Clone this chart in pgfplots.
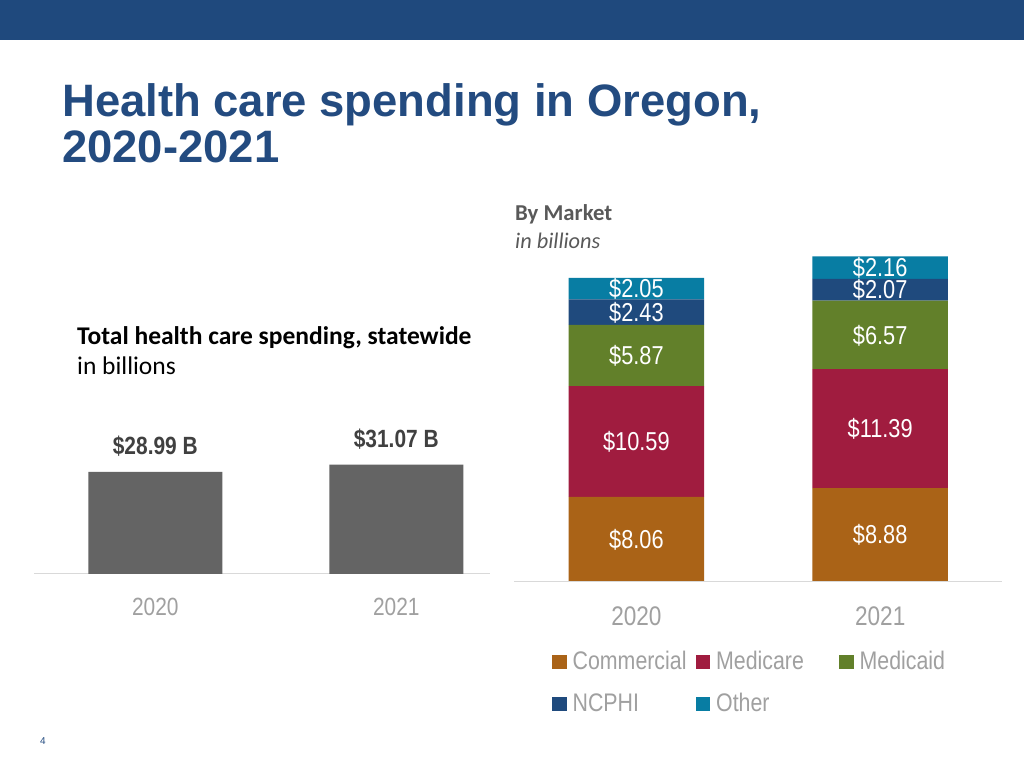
\documentclass[border=0pt]{standalone}
\usepackage{pgfplots}
\pgfplotsset{compat=1.18}
\usepackage{fontspec}
\setmainfont{Liberation Sans}
\newfontfamily\narrow[FakeStretch=0.84]{Liberation Sans}
\newfontfamily\calibri{Carlito}
\definecolor{topbar}{HTML}{1F497D}
\definecolor{titleblue}{HTML}{234B80}
\definecolor{barGray}{HTML}{646464}
\definecolor{labGray}{HTML}{404040}
\definecolor{tickGray}{HTML}{A0A0A0}
\definecolor{lineGray}{HTML}{D9D9D9}
\definecolor{subGray}{HTML}{595959}
\definecolor{comm}{HTML}{AA6317}
\definecolor{medicare}{HTML}{A01C3F}
\definecolor{medicaid}{HTML}{62802A}
\definecolor{ncphi}{HTML}{1F4A7D}
\definecolor{other}{HTML}{087DA3}
\begin{document}
\begin{tikzpicture}
\useasboundingbox (0bp,0bp) rectangle (1024bp,768bp);
\fill[white] (0bp,0bp) rectangle (1024bp,768bp);
\fill[topbar] (0bp,768bp) rectangle (1024bp,728bp);
\node[anchor=base west, inner sep=0, font=\bfseries\fontsize{45.6}{46}\selectfont, text=titleblue] at (62bp,651bp) {Health care spending in Oregon,};
\node[anchor=base west, inner sep=0, font=\bfseries\fontsize{45.6}{46}\selectfont, text=titleblue] at (62bp,605bp) {2020-2021};
\node[anchor=base west, inner sep=0, font=\calibri\bfseries\fontsize{25.6}{30}\selectfont] at (77bp,423bp) {Total health care spending, statewide};
\node[anchor=base west, inner sep=0, font=\calibri\fontsize{25.6}{30}\selectfont] at (77bp,393bp) {in billions};
\node[anchor=base west, inner sep=0, text=subGray, font=\calibri\bfseries\fontsize{22.8}{26}\selectfont] at (515bp,547bp) {By Market};
\node[anchor=base west, inner sep=0, text=subGray, font=\calibri\itshape\fontsize{22.4}{26}\selectfont] at (515bp,519bp) {in billions};
\node[anchor=base west, inner sep=0, text=titleblue, font=\fontsize{10}{12}\selectfont] at (40bp,24bp) {4};

% Left chart: total spending
\begin{axis}[
  at={(34bp,194bp)}, anchor=south west, scale only axis,
  width=456bp, height=140.8bp,
  xmin=-0.5035, xmax=1.389, ymin=0, ymax=40,
  ybar, bar width=134bp, bar shift=0pt,
  axis lines*=left,
  y axis line style={draw=none},
  x axis line style={draw=lineGray, line width=1pt},
  ytick=\empty,
  xtick={0,1}, xticklabels={2020,2021},
  major tick length=0pt,
  xticklabel style={font=\narrow\fontsize{25}{30}\selectfont, text=tickGray, inner sep=0pt, text depth=0pt, anchor=base, yshift=-42bp},
  /pgf/number format/assume math mode=true,
  nodes near coords={\$\pgfmathprintnumber[fixed,fixed zerofill,precision=2]{\pgfplotspointmeta}~B},
  every node near coord/.append style={font=\narrow\bfseries\fontsize{25}{30}\selectfont, text=labGray, inner sep=0pt, text depth=0pt, yshift=17bp},
  clip=false,
]
\addplot[fill=barGray, draw=none] coordinates {(0,28.99) (1,31.07)};
\end{axis}

% Right chart: by market
\begin{axis}[
  at={(514bp,187bp)}, anchor=south west, scale only axis,
  width=488bp, height=334.4bp,
  xmin=-0.502, xmax=1.4996, ymin=0, ymax=32,
  ybar stacked, bar width=135.5bp,
  axis lines*=left,
  y axis line style={draw=none},
  x axis line style={draw=lineGray, line width=1pt},
  ytick=\empty,
  xtick={0,1}, xticklabels={2020,2021},
  major tick length=0pt,
  xticklabel style={font=\narrow\fontsize{27}{32}\selectfont, text=tickGray, inner sep=0pt, text depth=0pt, anchor=base, yshift=-44bp},
  /pgf/number format/assume math mode=true,
  nodes near coords={\$\pgfmathprintnumber[fixed,fixed zerofill,precision=2]{\pgfplotspointmeta}},
  every node near coord/.append style={font=\narrow\fontsize{26}{30}\selectfont, text=white, inner sep=0pt, text height=18.5bp, text depth=0pt, anchor=center},
  legend columns=3,
  legend image code/.code={\fill[#1,draw=none] (0bp,-6.5bp) rectangle (14.5bp,8bp);},
  legend style={at={(0.0717,-0.2033)}, anchor=north west, draw=none, fill=none,
    font=\narrow\fontsize{25.5}{30}\selectfont, text=tickGray,
    /tikz/every odd column/.append style={column sep=6bp},
    row sep=19bp,
    nodes={inner sep=0pt, text height=18bp, text depth=5bp}},
  clip=false,
]
\addplot[fill=comm, draw=none] coordinates {(0,8.06) (1,8.88)};
\addlegendentry{\makebox[123bp][l]{Commercial}}
\addplot[fill=medicare, draw=none] coordinates {(0,10.59) (1,11.39)};
\addlegendentry{\makebox[123bp][l]{Medicare}}
\addplot[fill=medicaid, draw=none] coordinates {(0,5.87) (1,6.57)};
\addlegendentry{\makebox[123bp][l]{Medicaid}}
\addplot[fill=ncphi, draw=none] coordinates {(0,2.43) (1,2.07)};
\addlegendentry{\makebox[123bp][l]{NCPHI}}
\addplot[fill=other, draw=none] coordinates {(0,2.05) (1,2.16)};
\addlegendentry{\makebox[123bp][l]{Other}}
\end{axis}
\end{tikzpicture}
\end{document}
